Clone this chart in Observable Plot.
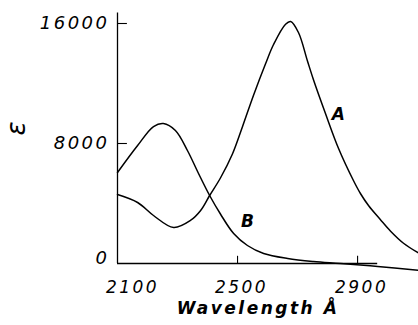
<!DOCTYPE html>
<html>
<head>
<meta charset="utf-8">
<script src="https://cdn.jsdelivr.net/npm/d3@7"></script>
<script src="https://cdn.jsdelivr.net/npm/@observablehq/plot@0.6"></script>
<style>
  html, body { margin: 0; padding: 0; background: #fff; }
  svg text { font-family: "DejaVu Sans", sans-serif; font-style: italic; }
</style>
</head>
<body>
<div id="chart"></div>
<script>
// Wavelength (Å) and molar extinction coefficient ε
const wavelengthA = [2100, 2167, 2220, 2287, 2343, 2377, 2407, 2443, 2483, 2517, 2553, 2593, 2620, 2660, 2677, 2703, 2733, 2753, 2793, 2837, 2887, 2910, 2937, 2975, 3010, 3053, 3103];
const epsilonA    = [4600, 4067, 3200, 2400, 2867, 3533, 4533, 5700, 7300, 9150, 11200, 13300, 14600, 15950, 16130, 15400, 13500, 12250, 10000, 7650, 5500, 4650, 3850, 2950, 2150, 1350, 700];

const wavelengthB = [2100, 2167, 2220, 2253, 2293, 2333, 2370, 2407, 2443, 2487, 2533, 2587, 2667, 2753, 2843, 2967, 3103];
const epsilonB    = [6067, 7867, 9133, 9333, 8867, 7533, 6000, 4533, 3300, 2000, 1200, 667, 333, 133, 0, -200, -450];

const xTickValues = [2100, 2500, 2900];
const yTickValues = [0, 8000, 16000];
const curveLabels = [{name: "A", x: 2840, y: 9930}, {name: "B", x: 2537, y: 2800}];

const rowsA = wavelengthA.map((w, i) => ({w, e: epsilonA[i]}));
const rowsB = wavelengthB.map((w, i) => ({w, e: epsilonB[i]}));

const textStyle = {fontSize: 17, fontStyle: "italic", fill: "black"};
const yLabelStyle = {...textStyle, fontSize: 18, letterSpacing: "3.5px", textAnchor: "end", dx: -8};

const chart = Plot.plot({
  width: 418,
  height: 325,
  marginLeft: 117,
  marginRight: 0,
  marginTop: 23,
  marginBottom: 62,
  style: {background: "white", fontFamily: "DejaVu Sans, sans-serif", letterSpacing: "2.5px"},
  x: {domain: [2100, 3103], axis: null},
  y: {domain: [0, 16000], axis: null},
  marks: [
    // axis lines
    Plot.ruleX([2100], {y1: 0, y2: 16700, stroke: "black", strokeWidth: 1.3}),
    Plot.ruleY([0], {x1: 2100, x2: 2967, stroke: "black", strokeWidth: 1.3}),
    // inner ticks
    Plot.ruleX(xTickValues.filter(d => d > 2100), {y1: 0, y2: 480, stroke: "black", strokeWidth: 1.1}),
    Plot.ruleY(yTickValues.filter(d => d > 0), {x1: 2100, x2: 2133, stroke: "black", strokeWidth: 1.1}),
    // tick labels
    Plot.text(xTickValues.filter(d => d === 2100), {x: d => d, y: 0, text: d => String(d), dy: 24, dx: 15, ...textStyle}),
    Plot.text(xTickValues.filter(d => d > 2100), {x: d => d, y: 0, text: d => String(d), dy: 24, dx: 4, ...textStyle}),
    Plot.text(yTickValues.filter(d => d > 0), {x: 2100, y: d => d, text: d => String(d), ...yLabelStyle}),
    Plot.text(yTickValues.filter(d => d === 0), {x: 2100, y: d => d, text: d => String(d), ...yLabelStyle, dy: -5}),
    // curves
    Plot.line(rowsA, {x: "w", y: "e", curve: "catmull-rom", stroke: "black", strokeWidth: 1.5}),
    Plot.line(rowsB, {x: "w", y: "e", curve: "catmull-rom", stroke: "black", strokeWidth: 1.5}),
    // curve labels
    Plot.text(curveLabels, {x: "x", y: "y", text: "name", ...textStyle, fontWeight: "bold"}),
    // axis titles
    Plot.text(["Wavelength Å"], {frameAnchor: "bottom", dy: 50, dx: -10, ...textStyle, fontWeight: "bold"}),
    Plot.text(["ε"], {frameAnchor: "left", dx: -101, dy: -8, rotate: -90, ...textStyle, fontSize: 26})
  ]
});
document.getElementById("chart").appendChild(chart);
</script>
</body>
</html>
